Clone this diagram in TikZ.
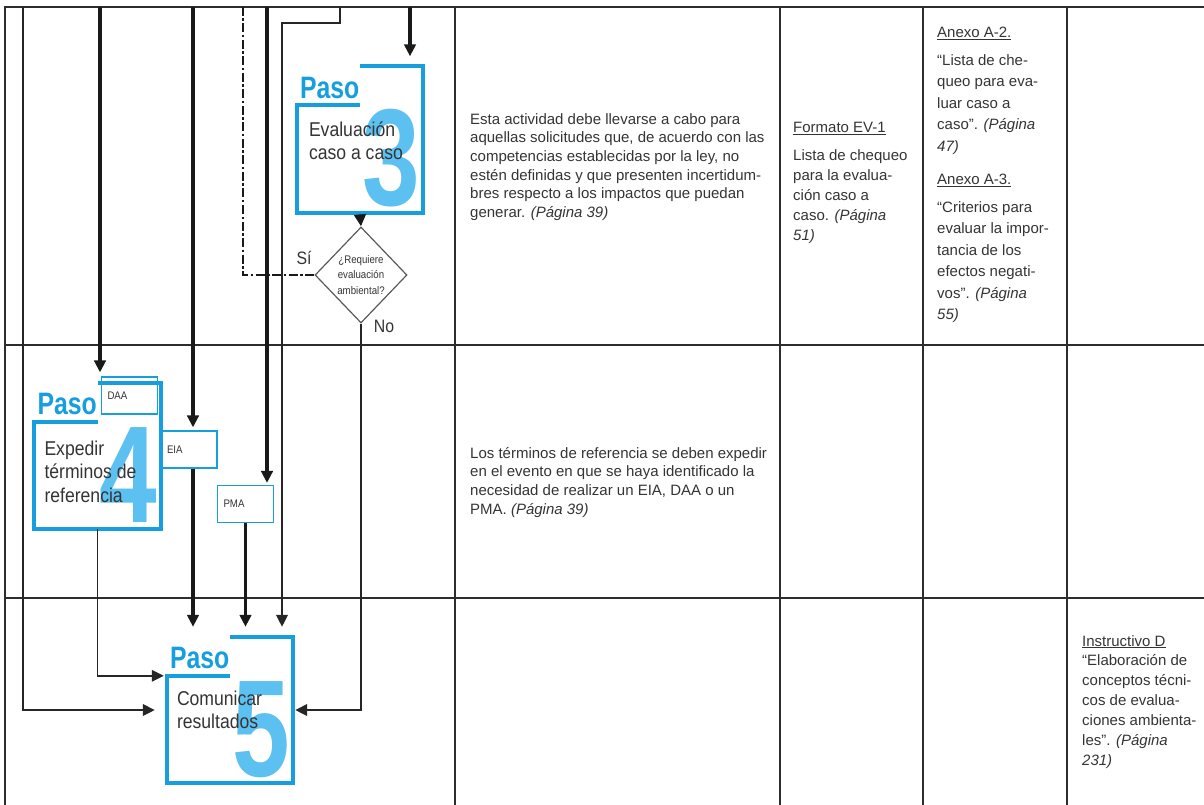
\documentclass[tikz,border=0pt]{standalone}
\usepackage{fontspec}
\setmainfont{Liberation Sans}
\newfontfamily\stepfont{Liberation Sans}[FakeStretch=0.88]
\newfontfamily\pasofont{Liberation Sans}[FakeStretch=0.8]
\newfontfamily\numfont{Liberation Sans}[FakeStretch=0.75]
\usetikzlibrary{shapes.geometric,arrows.meta,calc}

\definecolor{pasoblue}{RGB}{22,158,222}
\definecolor{numblue}{RGB}{92,192,240}
\definecolor{txt}{RGB}{52,52,52}
\definecolor{rule}{RGB}{45,45,45}

\begin{document}
\begin{tikzpicture}[
  x=1pt, y=-1pt,
  every node/.style={inner sep=0pt, text=txt},
  grid/.style={draw=rule, line width=1.3pt},
  stepbox/.style={rectangle, minimum width=126pt, minimum height=146pt},
  frame/.style={draw=pasoblue, line width=4pt},
  pasotxt/.style={text=pasoblue, font=\pasofont\bfseries\fontsize{31}{31}\selectfont},
  numtxt/.style={text=numblue, font=\numfont\bfseries\fontsize{138}{138}\selectfont},
  steptxt/.style={anchor=north west, align=left, font=\stepfont\fontsize{20}{23.5}\selectfont},
  docbox/.style={rectangle, draw=pasoblue, line width=1.2pt, fill=white,
                 minimum width=56pt, minimum height=37pt, text width=44pt,
                 align=left, font=\stepfont\fontsize{11}{12}\selectfont},
  query/.style={diamond, draw=black!65, line width=1.2pt,
                minimum width=92pt, minimum height=96pt},
  para/.style={anchor=north west, align=left},
  lnk/.style={draw=black!85, line width=1.8pt, -{Triangle[length=12pt,width=11.5pt]}},
  lnkb/.style={draw=black!90, line width=3.2pt, -{Triangle[length=12pt,width=11.5pt]}},
  lnkdot/.style={draw=black!90, line width=2.6pt, dash pattern=on 9pt off 2.5pt on 2.5pt off 2.5pt}
]
\useasboundingbox (0,0) rectangle (1204,805);

% ---- table ----
\draw[grid] (5,805) -- (5,7) -- (1210,7);
\foreach \x in {455,780,923,1067} \draw[grid] (\x,7) -- (\x,805);
\foreach \y in {345,598} \draw[grid] (5,\y) -- (1210,\y);

% ---- incoming lines (from above) ----
\coordinate (ina) at (23,7);
\coordinate (inb) at (100,7);
\coordinate (inc) at (193,7);
\coordinate (ind) at (243,7);
\coordinate (ine) at (267,7);
\coordinate (inf) at (340,7);
\coordinate (ing) at (410,7);
\coordinate (jog) at (282,23);

% ---- steps ----
\node[stepbox] (p3) at (360,139.5) {};
\node[stepbox] (p4) at (97.5,456) {};
\node[stepbox] (p5) at (230,710) {};

\node[query] (dia) at (361,275) {};
\node[align=center, font=\stepfont\fontsize{11}{15.5}\selectfont] (qtxt) at (dia.center)
  {¿Requiere\\evaluación\\ambiental?};
\node[font=\stepfont\fontsize{18}{18}\selectfont] (si) at (304,258) {Sí};
\node[font=\stepfont\fontsize{18}{18}\selectfont] (no) at (384,326) {No};

\node[docbox] (daa) at (129.5,395.5) {DAA};
\node[docbox] (eia) at (189,449.5) {EIA};
\node[docbox] (pma) at (245.5,504) {PMA};

\foreach \s/\n in {p3/3,p4/4,p5/5}
  \node[numtxt, anchor=base east] (\s-num) at ([xshift=-3pt,yshift=7pt]\s.south east) {\n};

\node[steptxt] (t3) at ([xshift=12pt,yshift=-55pt]p3.north west) {Evaluación\\caso a caso};
\node[steptxt] (t4) at ([xshift=10pt,yshift=-58pt]p4.north west) {Expedir\\términos de\\referencia};
\node[steptxt] (t5) at ([xshift=10pt,yshift=-54pt]p5.north west) {Comunicar\\resultados};

\foreach \s in {p3,p4,p5}
  \draw[frame] (\s.north) -- (\s.north east) -- (\s.south east) -- (\s.south west)
    -- ([yshift=-39pt]\s.north west) -- ([yshift=-39pt]\s.north);
\foreach \s in {p3,p4,p5}
  \node[pasotxt, anchor=base west] (\s-paso) at ([xshift=3pt,yshift=-32pt]\s.north west) {Paso};

% ---- connectors ----
\draw[lnk, shorten >=12pt] (ina) |- (p5.west);
\draw[lnkb, shorten >=4pt] (inb) -- (inb |- daa.north);
\draw[lnkb, shorten >=3pt] (inc) -- (inc |- eia.north);
\draw[lnkdot] (ind) |- (dia.west);
\draw[lnkb, shorten >=2pt] (ine) -- (ine |- pma.north);
\draw[lnk, line width=2.2pt, shorten >=10pt] (inf) |- (jog) -- (jog |- p5.north);
\draw[lnkb, shorten >=10pt] (ing) -- (ing |- p3.north);
\draw[lnkb] ([yshift=-2pt]p3.south) -- (dia.north);
\draw[lnk, shorten >=3pt] (p4.south) |- ([yshift=-39pt]p5.north west);
\draw[lnkb, shorten >=10pt] (inc |- eia.south) -- (inc |- p5.north);
\draw[lnkb, shorten >=10pt] (pma.south) -- (pma.south |- p5.north);
\draw[lnk, shorten >=2pt] (dia.south) |- (p5.east);

% ---- descriptions ----
\begin{scope}[every node/.append style={para, font=\fontsize{15}{18.7}\selectfont}]
\node (d3) at (470,113) {Esta actividad debe llevarse a cabo para\\aquellas solicitudes que, de acuerdo con las\\competencias establecidas por la ley, no\\estén definidas y que presenten incertidum-\\bres respecto a los impactos que puedan\\generar. \textit{(Página 39)}};
\node (d4) at (470,447) {Los términos de referencia se deben expedir\\en el evento en que se haya identificado la\\necesidad de realizar un EIA, DAA o un\\PMA. \textit{(Página 39)}};
\end{scope}

% ---- formats / annexes ----
\begin{scope}[every node/.append style={para, font=\fontsize{15}{20}\selectfont}]
\node (f3h) at (793,122) {\underline{Formato EV-1}};
\node (f3) at (793,149) {Lista de chequeo\\para la evalua-\\ción caso a\\caso. \textit{(Página}\\\textit{51)}};
\node (id5h) at (1082,635) {\underline{Instructivo D}};
\node (id5) at (1082,654) {“Elaboración de\\conceptos técni-\\cos de evalua-\\ciones ambienta-\\les”. \textit{(Página}\\\textit{231)}};
\end{scope}
\begin{scope}[every node/.append style={para, font=\fontsize{15}{21.5}\selectfont}]
\node (a2h) at (937,27) {\underline{Anexo A-2.}};
\node (a2) at (937,54) {“Lista de che-\\queo para eva-\\luar caso a\\caso”. \textit{(Página}\\\textit{47)}};
\node (a3h) at (937,174) {\underline{Anexo A-3.}};
\node (a3) at (937,201) {“Criterios para\\evaluar la impor-\\tancia de los\\efectos negati-\\vos”. \textit{(Página}\\\textit{55)}};
\end{scope}

\end{tikzpicture}
\end{document}
